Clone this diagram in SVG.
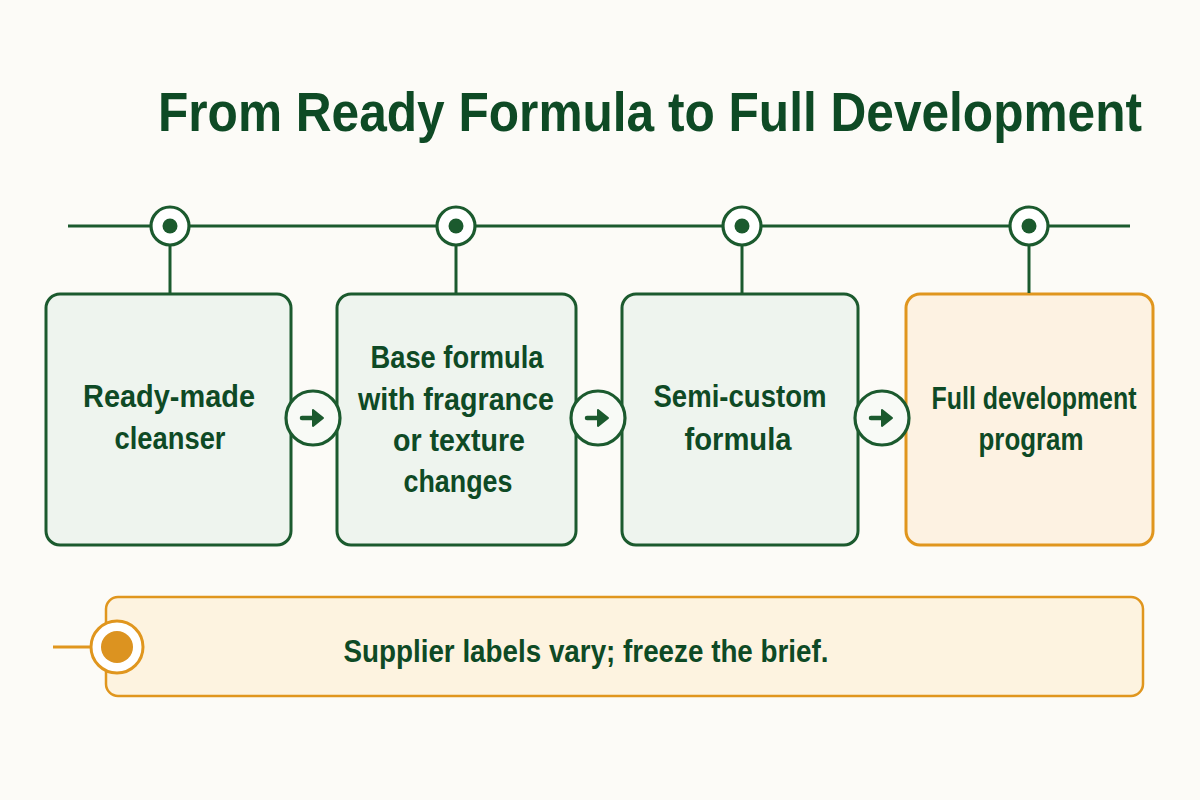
<svg xmlns="http://www.w3.org/2000/svg" width="1200" height="800" viewBox="0 0 1200 800">
<style>
.title{font-family:"Liberation Sans",Arial,sans-serif;font-weight:bold;font-size:50px;fill:#0e4a25}
.lbl{font-family:"Liberation Sans",Arial,sans-serif;font-weight:bold;font-size:31px;fill:#0e4a25;text-anchor:middle}
.gbox{fill:#eef4ee;stroke:#1b5a2e;stroke-width:3}
.obox{fill:#fdf2e2;stroke:#e0961e;stroke-width:3}
.gline{stroke:#1b5a2e;stroke-width:3;fill:none}
.ring{fill:#ffffff;stroke:#1b5a2e;stroke-width:3.2}
.dot{fill:#1b5a2e}
</style>
<defs>
<g id="arrowIcon">
<path d="M-11,0 H5" stroke="#1b5a2e" stroke-width="4.5" stroke-linecap="round"/>
<path d="M0,-8 L10,0 L0,8 Z" fill="#1b5a2e" stroke="#1b5a2e" stroke-width="2" stroke-linejoin="round"/>
</g>
</defs>
<rect width="1200" height="800" fill="#fcfbf7"/>
<text class="title" transform="translate(158,131) scale(1,1.1)" x="0" y="0" textLength="984" lengthAdjust="spacingAndGlyphs">From Ready Formula to Full Development</text>

<g id="marker1"><circle class="ring" cx="170" cy="226" r="19"/><circle class="dot" cx="170" cy="226" r="7.5"/></g>
<g id="marker2"><circle class="ring" cx="456" cy="226" r="19"/><circle class="dot" cx="456" cy="226" r="7.5"/></g>
<g id="marker3"><circle class="ring" cx="742" cy="226" r="19"/><circle class="dot" cx="742" cy="226" r="7.5"/></g>
<g id="marker4"><circle class="ring" cx="1029" cy="226" r="19"/><circle class="dot" cx="1029" cy="226" r="7.5"/></g>

<g id="node1">
<rect class="gbox" x="46" y="294" width="245" height="251" rx="14"/>
<text class="lbl" x="169" y="407" textLength="172" lengthAdjust="spacingAndGlyphs">Ready-made</text>
<text class="lbl" x="170" y="449" textLength="111" lengthAdjust="spacingAndGlyphs">cleanser</text>
</g>
<g id="node2">
<rect class="gbox" x="337" y="294" width="239" height="251" rx="14"/>
<text class="lbl" x="457" y="368" textLength="173" lengthAdjust="spacingAndGlyphs">Base formula</text>
<text class="lbl" x="456" y="410" textLength="196" lengthAdjust="spacingAndGlyphs">with fragrance</text>
<text class="lbl" x="459" y="451" textLength="132" lengthAdjust="spacingAndGlyphs">or texture</text>
<text class="lbl" x="458" y="492" textLength="109" lengthAdjust="spacingAndGlyphs">changes</text>
</g>
<g id="node3">
<rect class="gbox" x="622" y="294" width="236" height="251" rx="14"/>
<text class="lbl" x="740" y="407" textLength="173" lengthAdjust="spacingAndGlyphs">Semi-custom</text>
<text class="lbl" x="738" y="450" textLength="107" lengthAdjust="spacingAndGlyphs">formula</text>
</g>
<g id="node4">
<rect class="obox" x="906" y="294" width="247" height="251" rx="14"/>
<text class="lbl" x="1034" y="409" textLength="205" lengthAdjust="spacingAndGlyphs">Full development</text>
<text class="lbl" x="1031" y="450" textLength="105" lengthAdjust="spacingAndGlyphs">program</text>
</g>

<g id="note">
<rect x="106" y="597" width="1037" height="99" rx="12" fill="#fdf3e0" stroke="#e0961e" stroke-width="2.5"/>
<circle cx="117" cy="647" r="26" fill="#ffffff" stroke="#e0961e" stroke-width="3"/>
<circle cx="117" cy="647" r="16" fill="#dc9320"/>
<text class="lbl" x="586" y="662" textLength="485" lengthAdjust="spacingAndGlyphs">Supplier labels vary; freeze the brief.</text>
</g>

<g id="connectors">
<line class="gline" x1="68" y1="226" x2="150" y2="226"/>
<line class="gline" x1="190" y1="226" x2="436" y2="226"/>
<line class="gline" x1="476" y1="226" x2="722" y2="226"/>
<line class="gline" x1="762" y1="226" x2="1009" y2="226"/>
<line class="gline" x1="1049" y1="226" x2="1130" y2="226"/>
<line class="gline" x1="170" y1="246" x2="170" y2="293"/>
<line class="gline" x1="456" y1="246" x2="456" y2="293"/>
<line class="gline" x1="742" y1="246" x2="742" y2="293"/>
<line class="gline" x1="1029" y1="246" x2="1029" y2="293"/>
<g id="arrow1" transform="translate(313,418)"><circle class="ring" r="27" style="fill:#f8faf6"/><use href="#arrowIcon"/></g>
<g id="arrow2" transform="translate(598,418)"><circle class="ring" r="27" style="fill:#f8faf6"/><use href="#arrowIcon"/></g>
<g id="arrow3" transform="translate(882,418)"><circle class="ring" r="27" style="fill:#f8faf6"/><use href="#arrowIcon"/></g>
<line x1="53" y1="647" x2="90" y2="647" stroke="#e0961e" stroke-width="3"/>
</g>
</svg>
